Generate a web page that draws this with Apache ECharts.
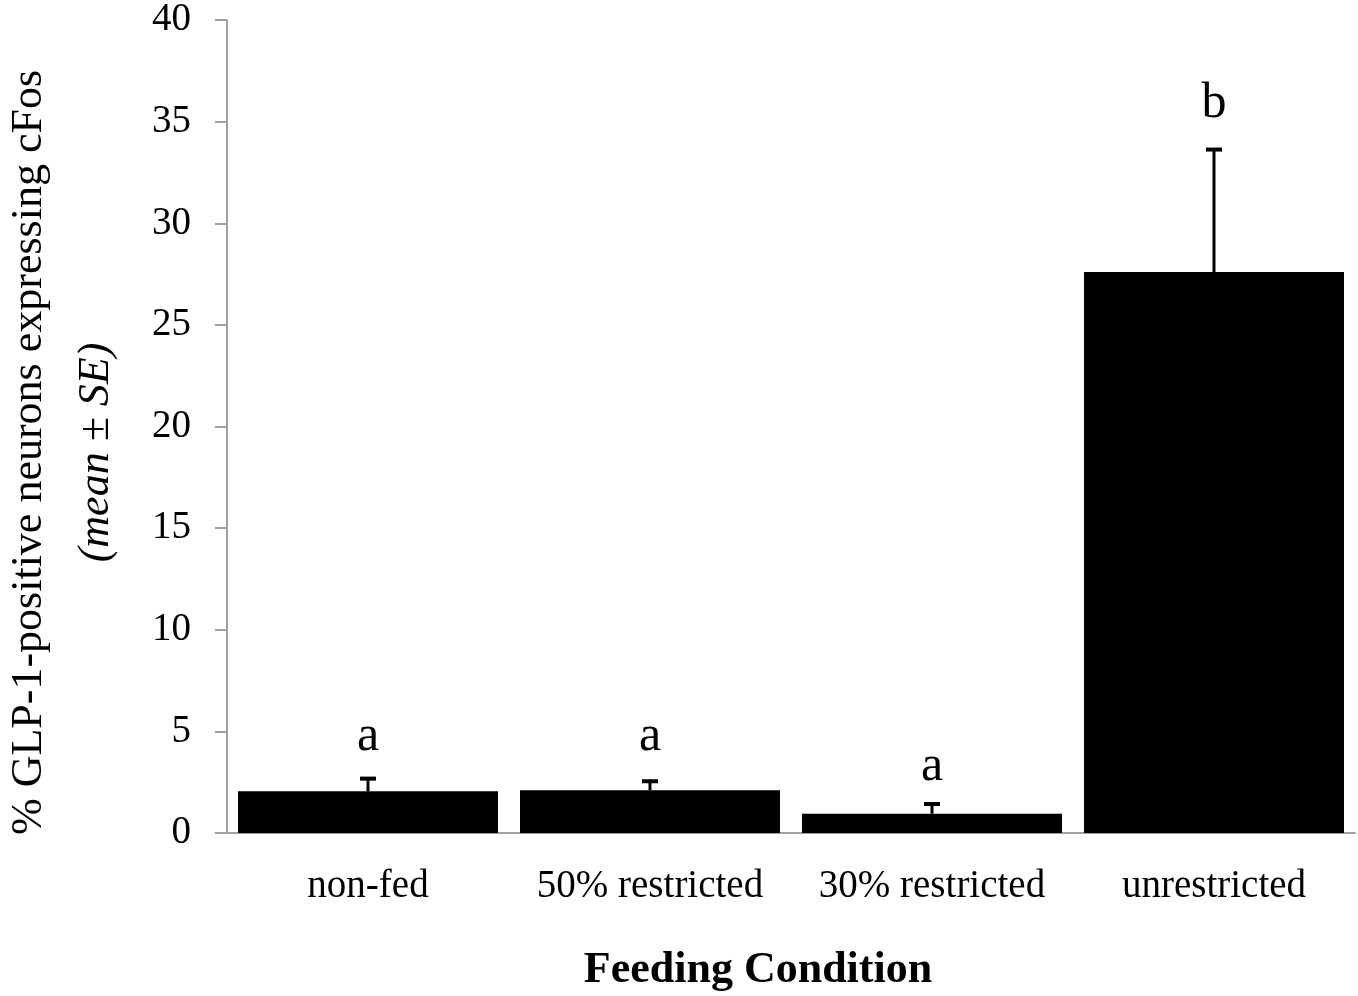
<!DOCTYPE html>
<html>
<head>
<meta charset="utf-8">
<script src="https://cdn.jsdelivr.net/npm/echarts@6/dist/echarts.min.js"></script>
<style>
html,body{margin:0;padding:0;background:#fff;}
#chart{width:1358px;height:996px;}
</style>
</head>
<body>
<div id="chart"></div>
<script>
const categories = ['non-fed', '50% restricted', '30% restricted', 'unrestricted'];
const means = [2.05, 2.1, 0.95, 27.6];
const errors = [0.7, 0.52, 0.55, 6.1];
const letters = ['a', 'a', 'a', 'b'];
const letterPos = [4.75, 4.75, 3.25, 35.85];
const yTicks = [0, 5, 10, 15, 20, 25, 30, 35, 40];

const FONT = '"Liberation Serif", "Times New Roman", serif';
const chart = echarts.init(document.getElementById('chart'));

const errData = means.map((m, i) => [i, m, errors[i]]);
const letterData = letterPos.map((p, i) => [i, p]);

chart.setOption({
  backgroundColor: '#fff',
  animation: false,
  grid: { left: 227, right: 3, top: 20, bottom: 163, outerBoundsMode: 'none', containLabel: false },
  xAxis: {
    type: 'category',
    data: categories,
    axisLine: { lineStyle: { color: '#a0a0a0', width: 2 } },
    axisTick: { show: false },
    axisLabel: { color: '#000', fontFamily: FONT, fontSize: 39, margin: 34, interval: 0 },
    name: 'Feeding Condition',
    nameLocation: 'middle',
    nameGap: 116,
    nameTextStyle: { color: '#000', fontFamily: FONT, fontSize: 44, fontWeight: 'bold', padding: [0, 66, 0, 0] }
  },
  yAxis: {
    type: 'value',
    min: yTicks[0],
    max: yTicks[yTicks.length - 1],
    interval: 5,
    axisLine: { show: true, lineStyle: { color: '#a0a0a0', width: 2 } },
    axisTick: { show: true, length: 12, lineStyle: { color: '#a0a0a0', width: 2 } },
    splitLine: { show: false },
    axisLabel: { color: '#000', fontFamily: FONT, fontSize: 39, margin: 36 },
    name: '{a|% GLP-1-positive neurons expressing cFos}\n{b|(mean ± SE)}',
    nameLocation: 'middle',
    nameRotate: 90,
    nameGap: 97,
    nameTextStyle: {
      color: '#000', fontFamily: FONT, fontSize: 44, padding: [0, 52, 0, 0],
      rich: {
        a: { fontFamily: FONT, fontSize: 44, color: '#000', lineHeight: 67 },
        b: { fontFamily: FONT, fontSize: 44, color: '#000', fontStyle: 'italic', lineHeight: 67 }
      }
    }
  },
  series: [
    {
      type: 'bar',
      data: means,
      barCategoryGap: '7.8%',
      itemStyle: { color: '#000' },
      z: 2
    },
    {
      type: 'custom',
      data: errData,
      z: 3,
      renderItem: function (params, api) {
        const x = api.value(0), v = api.value(1), e = api.value(2);
        const p0 = api.coord([x, v]);
        const p1 = api.coord([x, v + e]);
        return {
          type: 'group',
          children: [
            { type: 'line', shape: { x1: p0[0], y1: p0[1], x2: p1[0], y2: p1[1] }, style: { stroke: '#000', lineWidth: 3 } },
            { type: 'line', shape: { x1: p1[0] - 8, y1: p1[1] + 1.5, x2: p1[0] + 8, y2: p1[1] + 1.5 }, style: { stroke: '#000', lineWidth: 4 } }
          ]
        };
      }
    },
    {
      type: 'custom',
      data: letterData,
      z: 4,
      renderItem: function (params, api) {
        const p = api.coord([api.value(0), api.value(1)]);
        return {
          type: 'text',
          style: {
            text: letters[params.dataIndex],
            x: p[0], y: p[1],
            align: 'center', verticalAlign: 'middle',
            fill: '#000',
            font: '50px ' + FONT
          }
        };
      }
    }
  ]
});
</script>
</body>
</html>
